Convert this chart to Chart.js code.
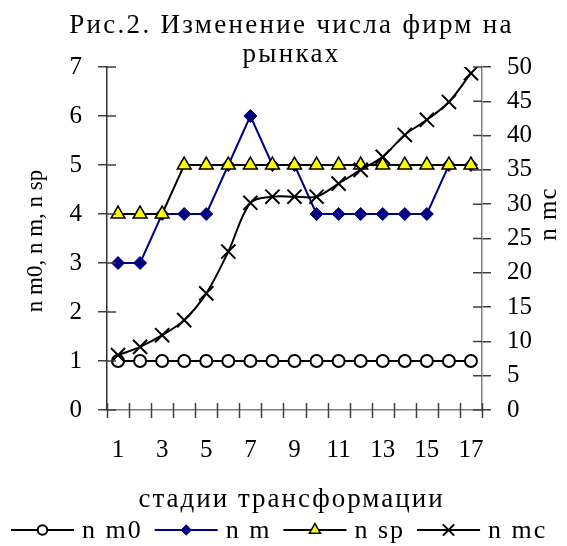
<!DOCTYPE html>
<html>
<head>
<meta charset="utf-8">
<script src="https://cdn.jsdelivr.net/npm/chart.js@4/dist/chart.umd.min.js"></script>
<style>
html,body{margin:0;padding:0;background:#fff;}
canvas{display:block;}
</style>
</head>
<body>
<canvas id="c" width="567" height="546"></canvas>
<script>
// ---- data ----
const categories = ['1','2','3','4','5','6','7','8','9','10','11','12','13','14','15','16','17'];
const nm0 = [1,1,1,1,1,1,1,1,1,1,1,1,1,1,1,1,1];
const nm  = [3,3,4,4,4,5,6,5,5,4,4,4,4,4,4,5,5];
const nsp = [4,4,4,5,5,5,5,5,5,5,5,5,5,5,5,5,5];
const nmc = [8,9.2,10.9,13.1,17,23.1,30.2,31.1,31.1,31.1,33,35,36.9,40.1,42.3,44.9,49.1];
const leftTicks = [0,1,2,3,4,5,6,7];
const rightTicks = [0,5,10,15,20,25,30,35,40,45,50];
const seriesNames = ['n m0','n m','n sp','n mc'];
const titleLines = ['Рис.2. Изменение числа фирм на','рынках'];
const xTitle = 'стадии трансформации';
const yTitle = 'n m0, n m, n sp';
const y2Title = 'n mc';

const FONT = '"Liberation Serif","Times New Roman",serif';
const FS = 25;
const AXIS = '#808080';
const AXIS_DARK = '#303030';
const TICK = '#404040';

const tickFont = {family: FONT, size: FS};

function setSpacing(ctx, v) { try { ctx.letterSpacing = v; } catch(e) {} }

const crossTicks = {
  id: 'crossTicks',
  afterDatasetsDraw(chart) {
    const ctx = chart.ctx;
    ctx.save();
    ctx.strokeStyle = TICK;
    ctx.lineWidth = 1.5;
    const ys = chart.scales.y, y2 = chart.scales.y2, xs = chart.scales.x;
    ctx.beginPath();
    ys.ticks.forEach((t, i) => {
      const p = ys.getPixelForTick(i);
      ctx.moveTo(ys.right, p); ctx.lineTo(ys.right + 9, p);
    });
    y2.ticks.forEach((t, i) => {
      const p = y2.getPixelForTick(i);
      ctx.moveTo(y2.left, p); ctx.lineTo(y2.left - 9, p);
    });
    // x-axis boundary ticks (between categories), crossing the axis
    const n = categories.length;
    const px = [];
    for (let i = 0; i < n; i++) px.push(xs.getPixelForTick(i));
    const half = (px[1] - px[0]) / 2;
    const bounds = [px[0] - half];
    for (let i = 0; i < n; i++) bounds.push(px[i] + half);
    const yA = chart.chartArea.bottom;
    bounds.forEach(b => {
      const xb = Math.round(b) + 0.5;
      ctx.moveTo(xb, yA - 7); ctx.lineTo(xb, yA + 8);
    });
    ctx.stroke();
    ctx.restore();
  },
  afterDraw(chart) {
    const ctx = chart.ctx;
    const area = chart.chartArea;
    ctx.save();
    ctx.fillStyle = '#000';
    ctx.textAlign = 'center';
    ctx.textBaseline = 'alphabetic';
    const cx = (area.left + area.right) / 2 - 3;
    ctx.font = '27px ' + FONT;
    setSpacing(ctx, '2.3px');
    ctx.fillText(titleLines[0], cx, 33);
    ctx.fillText(titleLines[1], cx, 62);
    // x title
    setSpacing(ctx, '2px');
    ctx.textBaseline = 'middle';
    ctx.fillText(xTitle, cx, 500);
    // y titles
    ctx.font = '23px ' + FONT;
    setSpacing(ctx, '0px');
    ctx.save();
    ctx.translate(36, 241);
    ctx.rotate(-Math.PI / 2);
    ctx.fillText(yTitle, 0, 0);
    ctx.restore();
    ctx.font = FS + 'px ' + FONT;
    setSpacing(ctx, '1px');
    ctx.save();
    ctx.translate(549, 214);
    ctx.rotate(-Math.PI / 2);
    ctx.fillText(y2Title, 0, 0);
    ctx.restore();
    // legend
    ctx.font = '26px ' + FONT;
    setSpacing(ctx, '2px');
    const ly = 530;
    let x = 11;
    const lineLen = 63;
    chart.data.datasets.forEach((ds, i) => {
      ctx.save();
      ctx.strokeStyle = ds.borderColor;
      ctx.lineWidth = 2;
      ctx.beginPath();
      ctx.moveTo(x, ly); ctx.lineTo(x + lineLen, ly);
      ctx.stroke();
      ctx.fillStyle = ds.pointBackgroundColor;
      ctx.strokeStyle = ds.pointBorderColor;
      ctx.lineWidth = ds.pointBorderWidth;
      Chart.helpers.drawPoint(ctx, {pointStyle: ds.pointStyle, radius: ds.pointRadius * 0.8, rotation: 0, borderWidth: ds.pointBorderWidth}, x + lineLen / 2, ly);
      ctx.restore();
      x += lineLen + 8;
      ctx.textAlign = 'left';
      ctx.fillStyle = '#000';
      ctx.fillText(ds.label, x, ly + 1);
      x += ctx.measureText(ds.label).width + 12;
    });
    ctx.restore();
  }
};

new Chart(document.getElementById('c'), {
  type: 'line',
  data: {
    labels: categories,
    datasets: [
      {label: seriesNames[0], data: nm0, yAxisID: 'y', order: 4,
       borderColor: '#000', borderWidth: 2, pointStyle: 'circle', pointRadius: 6,
       pointBackgroundColor: '#fff', pointBorderColor: '#000', pointBorderWidth: 2, tension: 0},
      {label: seriesNames[1], data: nm, yAxisID: 'y', order: 3,
       borderColor: '#000080', borderWidth: 2, pointStyle: 'rectRot', pointRadius: 6.5,
       pointBackgroundColor: '#000080', pointBorderColor: '#000080', pointBorderWidth: 1, tension: 0},
      {label: seriesNames[2], data: nsp, yAxisID: 'y', order: 2,
       borderColor: '#000', borderWidth: 2, pointStyle: 'triangle', pointRadius: 8,
       pointBackgroundColor: '#ffff00', pointBorderColor: '#000', pointBorderWidth: 1.5, tension: 0},
      {label: seriesNames[3], data: nmc, yAxisID: 'y2', order: 1,
       borderColor: '#000', borderWidth: 2, pointStyle: 'crossRot', pointRadius: 10,
       pointBackgroundColor: '#000', pointBorderColor: '#000', pointBorderWidth: 2, tension: 0.33}
    ]
  },
  options: {
    responsive: false,
    animation: false,
    events: [],
    layout: {padding: {left: 0, right: 0, top: 67, bottom: 0}},
    plugins: {legend: {display: false}, title: {display: false}, tooltip: {enabled: false}},
    scales: {
      x: {
        type: 'category', offset: true,
        grid: {display: false, drawOnChartArea: false, drawTicks: false},
        border: {display: true, color: AXIS, width: 1.5},
        ticks: {autoSkip: false, maxRotation: 0, minRotation: 0, padding: 25, color: '#000', font: tickFont,
                callback: (v, i) => (i % 2 === 0 ? categories[i] : '')},
        afterFit: s => { s.height = 136; }
      },
      y: {
        position: 'left', min: 0, max: 7,
        afterBuildTicks: s => { s.ticks = leftTicks.map(v => ({value: v})); },
        grid: {drawOnChartArea: false, tickLength: 9, color: TICK, lineWidth: 1.5},
        border: {color: AXIS_DARK, width: 1.5},
        ticks: {padding: 16, color: '#000', font: tickFont},
        afterFit: s => { s.width = 107; }
      },
      y2: {
        position: 'right', min: 0, max: 50,
        afterBuildTicks: s => { s.ticks = rightTicks.map(v => ({value: v})); },
        grid: {drawOnChartArea: false, tickLength: 9, color: TICK, lineWidth: 1.5},
        border: {color: AXIS, width: 1.5},
        ticks: {padding: 16, color: '#000', font: tickFont},
        afterFit: s => { s.width = 85; }
      }
    }
  },
  plugins: [crossTicks]
});
</script>
</body>
</html>
